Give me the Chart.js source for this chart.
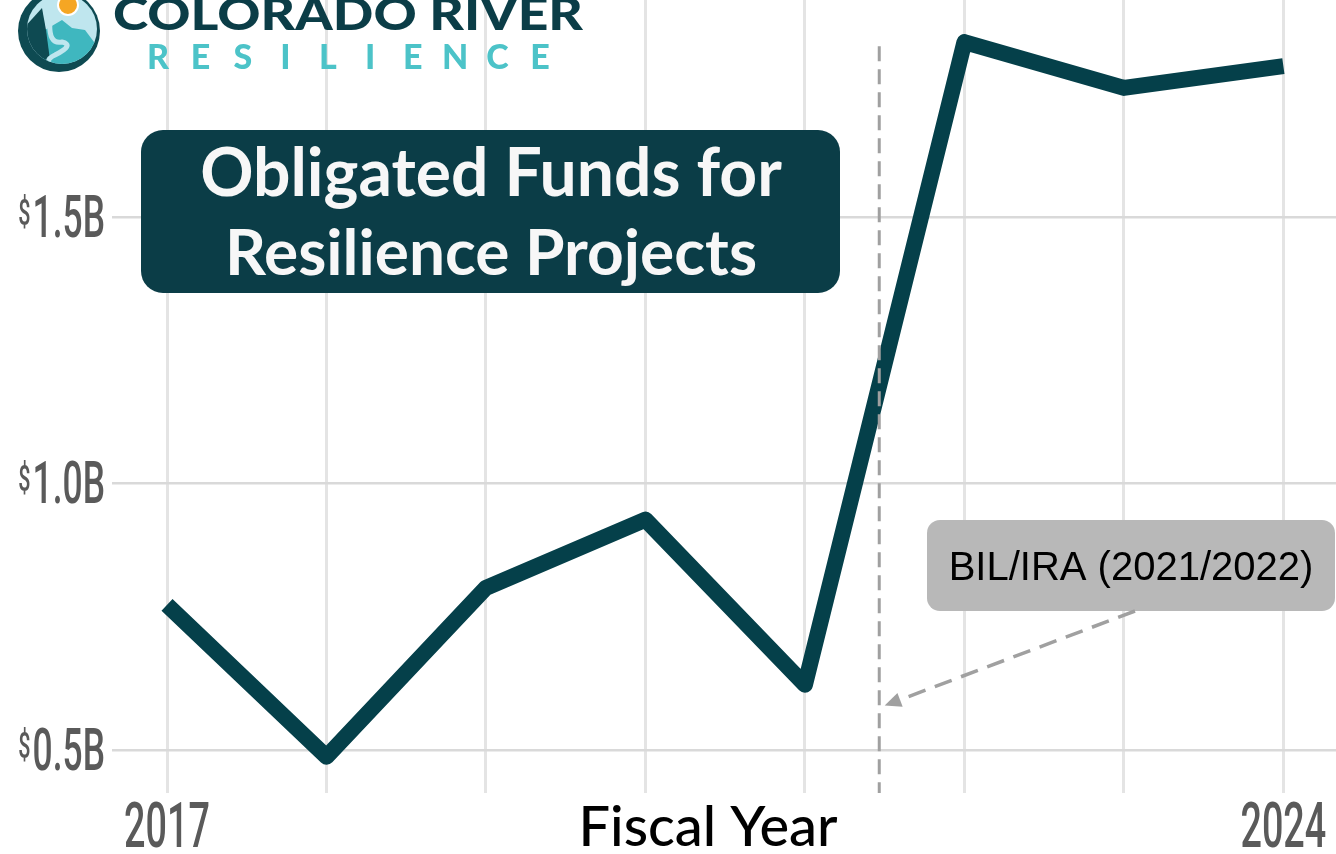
<!DOCTYPE html>
<html>
<head>
<meta charset="utf-8">
<script src="https://cdn.jsdelivr.net/npm/chart.js@4"></script>
<style>
    html, body { margin: 0; padding: 0; background: #fff; }
    #wrap { width: 1336px; height: 854px; position: relative; }
</style>
</head>
<body>
<div id="wrap"><canvas id="chart" width="1336" height="854"></canvas></div>
<script>
// fiscal years and obligated funds (billions of dollars)
const years = [2017, 2018, 2019, 2020, 2021, 2022, 2023, 2024];
const funds = [0.772, 0.487, 0.804, 0.932, 0.622, 1.828, 1.742, 1.783];
const yTicks = [0.5, 1.0, 1.5];
const xTickLabels = [2017, 2024];

const titleLines = ['Obligated Funds for', 'Resilience Projects'];
const xTitle = 'Fiscal Year';
const noteText = 'BIL/IRA (2021/2022)';
const markerYear = 2021.466;          // dashed divider
const arrowTip = { x: 2021.5, y: 0.583 };

const LINE = '#05404a';
const TEAL = '#0b3d47';

function roundRect(ctx, x, y, w, h, r) {
    ctx.beginPath();
    ctx.moveTo(x + r, y);
    ctx.arcTo(x + w, y, x + w, y + h, r);
    ctx.arcTo(x + w, y + h, x, y + h, r);
    ctx.arcTo(x, y + h, x, y, r);
    ctx.arcTo(x, y, x + w, y, r);
    ctx.closePath();
}

// squeezed Roboto to stand in for the tall condensed face of the original
function narrowText(ctx, text, x, y, size, align) {
    const sx = 0.6;
    ctx.save();
    ctx.font = `500 ${size}px "Roboto", sans-serif`;
    const w = ctx.measureText(text).width * sx;
    let left = x;
    if (align === 'right') left = x - w;
    if (align === 'center') left = x - w / 2;
    ctx.translate(left, y);
    ctx.scale(sx, 1);
    ctx.textAlign = 'left';
    ctx.textBaseline = 'alphabetic';
    ctx.fillText(text, 0, 0);
    ctx.restore();
    return w;
}

function drawLogo(ctx) {
    ctx.save();
    const cx = 59, cy = 31, r = 41;
    ctx.beginPath(); ctx.arc(cx, cy, r + 2, 0, Math.PI * 2); ctx.fillStyle = '#fff'; ctx.fill();
    ctx.beginPath(); ctx.arc(cx, cy, r, 0, Math.PI * 2); ctx.fillStyle = '#0e4a52'; ctx.fill();
    ctx.beginPath(); ctx.arc(cx + 3, cy - 2, r - 6, 0, Math.PI * 2); ctx.fillStyle = '#bfe6ee'; ctx.fill();
    ctx.save();
    ctx.beginPath(); ctx.arc(cx + 3, cy - 2, r - 6, 0, Math.PI * 2); ctx.clip();
    ctx.fillStyle = '#3fb7bf';
    ctx.beginPath();
    ctx.moveTo(40, 80); ctx.lineTo(45, 30); ctx.lineTo(62, 20); ctx.lineTo(72, 28); ctx.lineTo(85, 30); ctx.lineTo(100, 50); ctx.lineTo(100, 80);
    ctx.closePath(); ctx.fill();
    ctx.fillStyle = '#0e4a52';
    ctx.beginPath();
    ctx.moveTo(20, 80); ctx.lineTo(22, 30); ctx.lineTo(42, 8); ctx.lineTo(46, 30); ctx.lineTo(50, 60); ctx.lineTo(40, 80);
    ctx.closePath(); ctx.fill();
    ctx.strokeStyle = '#bfe6ee'; ctx.lineWidth = 5;
    ctx.beginPath();
    ctx.moveTo(50, 20); ctx.quadraticCurveTo(48, 45, 62, 42); ctx.quadraticCurveTo(75, 45, 55, 55); ctx.quadraticCurveTo(40, 62, 60, 70);
    ctx.stroke();
    ctx.restore();
    ctx.beginPath(); ctx.arc(68, 5, 10, 0, Math.PI * 2); ctx.fillStyle = '#f5a623'; ctx.fill();
    ctx.lineWidth = 2; ctx.strokeStyle = '#fff'; ctx.stroke();

    ctx.fillStyle = TEAL;
    ctx.font = '900 46px "Lato", sans-serif';
    ctx.textBaseline = 'alphabetic';
    ctx.textAlign = 'left';
    const w = ctx.measureText('COLORADO RIVER').width;
    ctx.save();
    ctx.translate(113, 30);
    ctx.scale(470 / w, 1);
    ctx.fillText('COLORADO RIVER', 0, 0);
    ctx.restore();

    ctx.fillStyle = '#4cc3c8';
    ctx.font = '900 34px "Lato", sans-serif';
    const letters = 'RESILIENCE'.split('');
    const step = (548 - 148 - 18) / (letters.length - 1);
    letters.forEach((ch, i) => {
        ctx.textAlign = 'center';
        ctx.fillText(ch, 158 + i * step, 69);
    });
    ctx.restore();
}

const decorations = {
    id: 'decorations',
    afterDatasetsDraw(chart) {
        const { ctx, chartArea, scales: { x, y } } = chart;

        // dashed divider over the line
        const mx = x.getPixelForValue(markerYear);
        ctx.save();
        ctx.strokeStyle = '#a0a0a0';
        ctx.lineWidth = 3;
        ctx.setLineDash([15, 8]);
        ctx.beginPath();
        ctx.moveTo(mx, y.getPixelForValue(1.82));
        ctx.lineTo(mx, chartArea.bottom);
        ctx.stroke();
        ctx.restore();
    },
    afterDraw(chart) {
        const { ctx, chartArea, scales: { x, y } } = chart;
        ctx.save();

        // y tick labels with small raised dollar sign
        ctx.fillStyle = '#5a5a5a';
        yTicks.forEach(v => {
            const py = y.getPixelForValue(v);
            const label = v.toFixed(1) + 'B';
            const w = narrowText(ctx, label, 105, py + 20, 59, 'right');
            narrowText(ctx, '$', 105 - w - 2, py + 8, 36, 'right');
        });

        // x tick labels, first and last year only
        xTickLabels.forEach(v => {
            narrowText(ctx, String(v), x.getPixelForValue(v), 847, 63, 'center');
        });

        // axis title
        ctx.fillStyle = '#000';
        ctx.font = '500 56px "Lato", sans-serif';
        ctx.textAlign = 'center';
        ctx.textBaseline = 'alphabetic';
        ctx.fillText(xTitle, 708, 846);

        // title box
        ctx.fillStyle = TEAL;
        roundRect(ctx, 141, 130, 699, 163, 22);
        ctx.fill();
        ctx.fillStyle = '#f7f7f7';
        ctx.font = '700 66px "Lato", sans-serif';
        ctx.fillText(titleLines[0], 491, 196);
        ctx.font = '700 64px "Lato", sans-serif';
        ctx.fillText(titleLines[1], 491, 275);

        // note box
        ctx.fillStyle = '#b8b8b8';
        roundRect(ctx, 927, 520, 408, 91, 13);
        ctx.fill();
        ctx.fillStyle = '#000';
        ctx.font = '40px "Liberation Sans", Arial, sans-serif';
        ctx.fillText(noteText, 1131, 580);

        // dashed arrow from note to divider
        const tx = x.getPixelForValue(arrowTip.x), ty = y.getPixelForValue(arrowTip.y);
        const sx = 1135, sy = 611;
        const ang = Math.atan2(ty - sy, tx - sx);
        const head = 18;
        ctx.strokeStyle = '#a0a0a0';
        ctx.fillStyle = '#a0a0a0';
        ctx.lineWidth = 3.5;
        ctx.setLineDash([18, 10]);
        ctx.beginPath();
        ctx.moveTo(sx, sy);
        ctx.lineTo(tx - Math.cos(ang) * head, ty - Math.sin(ang) * head);
        ctx.stroke();
        ctx.setLineDash([]);
        ctx.beginPath();
        ctx.moveTo(tx, ty);
        ctx.lineTo(tx - Math.cos(ang - 0.42) * head, ty - Math.sin(ang - 0.42) * head);
        ctx.lineTo(tx - Math.cos(ang + 0.42) * head, ty - Math.sin(ang + 0.42) * head);
        ctx.closePath();
        ctx.fill();

        drawLogo(ctx);
        ctx.restore();
    }
};

new Chart(document.getElementById('chart').getContext('2d'), {
    type: 'line',
    data: {
        datasets: [{
            data: years.map((yr, i) => ({ x: yr, y: funds[i] })),
            borderColor: LINE,
            borderWidth: 16,
            borderJoinStyle: 'round',
            borderCapStyle: 'butt',
            pointRadius: 0,
            tension: 0,
            clip: false
        }]
    },
    options: {
        responsive: false,
        animation: false,
        layout: { padding: { left: 112, right: 0, top: 0, bottom: 61 } },
        plugins: { legend: { display: false }, tooltip: { enabled: false } },
        scales: {
            x: {
                type: 'linear',
                min: 2016.655,
                max: 2024.33,
                border: { display: false },
                grid: { color: '#e4e4e4', lineWidth: 3, drawTicks: false },
                ticks: { display: false, stepSize: 1, includeBounds: false }
            },
            y: {
                min: 0.419,
                max: 1.907,
                border: { display: false },
                grid: { color: '#d9d9d9', lineWidth: 2.5, drawTicks: false },
                ticks: { display: false, stepSize: 0.5, includeBounds: false }
            }
        }
    },
    plugins: [decorations]
});
</script>
</body>
</html>
